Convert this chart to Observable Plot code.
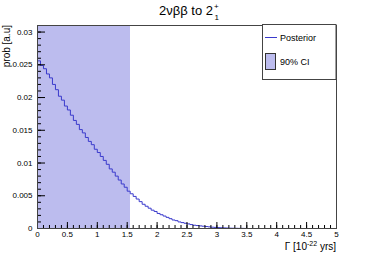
<!DOCTYPE html>
<html>
<head>
<meta charset="utf-8">
<script src="https://cdn.jsdelivr.net/npm/d3@7"></script>
<script src="https://cdn.jsdelivr.net/npm/@observablehq/plot@0.6"></script>
<style>
  html, body { margin: 0; padding: 0; background: #fff; }
  #chart { width: 374px; height: 254px; }
</style>
</head>
<body>
<div id="chart"></div>
<script>
// Posterior histogram: bin start (x, 1e-22 yrs) and probability
const binStart = [
  0.00, 0.05, 0.10, 0.15, 0.20, 0.25, 0.30, 0.35, 0.40, 0.45,
  0.50, 0.55, 0.60, 0.65, 0.70, 0.75, 0.80, 0.85, 0.90, 0.95,
  1.00, 1.05, 1.10, 1.15, 1.20, 1.25, 1.30, 1.35, 1.40, 1.45,
  1.50, 1.55, 1.60, 1.65, 1.70, 1.75, 1.80, 1.85, 1.90, 1.95,
  2.00, 2.05, 2.10, 2.15, 2.20, 2.25, 2.30, 2.35, 2.40, 2.45,
  2.50, 2.55, 2.60, 2.65, 2.70, 2.75, 2.80, 2.85, 2.90, 2.95,
  3.00, 3.05, 3.10, 3.15, 3.20, 3.25, 3.30, 3.35, 3.40, 3.45, 3.50
];
const prob = [
  0.0256, 0.0249, 0.0244, 0.0236, 0.0230, 0.0220, 0.0212, 0.0202, 0.0196, 0.0187,
  0.0181, 0.0173, 0.0165, 0.0159, 0.0151, 0.0146, 0.0139, 0.0133, 0.0128, 0.0121,
  0.0116, 0.0110, 0.0104, 0.0098, 0.0091, 0.0086, 0.0080, 0.0074, 0.0068, 0.0063,
  0.0057, 0.0053, 0.0049, 0.0045, 0.0041, 0.0037, 0.0034, 0.0031, 0.0028, 0.0026,
  0.0023, 0.0021, 0.0019, 0.0017, 0.0015, 0.0013, 0.0012, 0.0010, 0.0009, 0.0008,
  0.0007, 0.0006, 0.0005, 0.00045, 0.0004, 0.00035, 0.0003, 0.00025, 0.0002, 0.00017,
  0.00014, 0.00011, 0.00009, 0.00007, 0.00005, 0.00004, 0.00003, 0.00002, 0.00002, 0.00001, 0
];
// 90% credible interval
const ciLow = 0;
const ciHigh = 1.555;

// Axis ticks
const xMajorTicks = [0, 0.5, 1, 1.5, 2, 2.5, 3, 3.5, 4, 4.5, 5];
const xMinorTicks = d3.range(0, 51).map(i => i / 10);
const yMajorTicks = [0, 0.005, 0.01, 0.015, 0.02, 0.025, 0.03];
const yMinorTicks = d3.range(0, 31).map(i => i / 1000);
const yTickLabels = ["0", "0.005", "0.01", "0.015", "0.02", "0.025", "0.03"];
const xTickLabels = ["0", "0.5", "1", "1.5", "2", "2.5", "3", "3.5", "4", "4.5", "5"];

const posterior = binStart.map((x, i) => ({x, p: prob[i]}));
const ci = [{lo: ciLow, hi: ciHigh}];

const W = 374, H = 254;
const mL = 37, mR = 38, mT = 25, mB = 26;
const fw = W - mL - mR, fh = H - mT - mB;

const fillCI = "#bcbcee";
const lineCol = "#3a3acc";

const plot = Plot.plot({
  width: W, height: H,
  marginLeft: mL, marginRight: mR, marginTop: mT, marginBottom: mB,
  x: {domain: [0, 5]},
  y: {domain: [0, 0.031]},
  style: {fontFamily: "'Liberation Sans', Arial, sans-serif", fontSize: "8px", background: "white", color: "#000"},
  marks: [
    Plot.rect(ci, {x1: "lo", x2: "hi", fill: fillCI}),
    Plot.line(posterior, {x: "x", y: "p", curve: "step-after", stroke: lineCol, strokeWidth: 1}),
    Plot.tickX(xMinorTicks, {x: d => d, insetTop: fh - 3, stroke: "#000"}),
    Plot.tickX(xMajorTicks, {x: d => d, insetTop: fh - 6, stroke: "#000"}),
    Plot.tickY(yMinorTicks, {y: d => d, insetRight: fw - 4, stroke: "#000"}),
    Plot.tickY(yMajorTicks, {y: d => d, insetRight: fw - 8, stroke: "#000"}),
    Plot.axisX({ticks: xMajorTicks, tickSize: 0, tickPadding: 3, label: null,
      tickFormat: d => xTickLabels[xMajorTicks.indexOf(d)]}),
    Plot.axisY({ticks: yMajorTicks, tickSize: 0, tickPadding: 5, label: null,
      tickFormat: d => yTickLabels[yMajorTicks.indexOf(d)]}),
    Plot.frame({stroke: "#444"})
  ]
});

document.getElementById("chart").appendChild(plot);

const svg = d3.select(plot);
const font = "'Liberation Sans', Arial, sans-serif";

// Title
const title = svg.append("text")
  .attr("x", 186).attr("y", 15)
  .attr("text-anchor", "middle")
  .attr("font-family", font).attr("font-size", 13).attr("fill", "#000");
title.append("tspan").text("2νββ to 2");
const tEnd = 186 + title.node().getComputedTextLength() / 2;
svg.append("text").attr("x", tEnd + 1).attr("y", 9).attr("text-anchor", "start")
  .attr("font-family", font).attr("font-size", 8).text("+");
svg.append("text").attr("x", tEnd + 1.5).attr("y", 20).attr("text-anchor", "start")
  .attr("font-family", font).attr("font-size", 8).text("1");

// Y label
svg.append("text")
  .attr("transform", `translate(10, ${mT}) rotate(-90)`)
  .attr("text-anchor", "end")
  .attr("font-family", font).attr("font-size", 10).attr("fill", "#000")
  .text("prob [a.u]");

// X label
const xl = svg.append("text")
  .attr("x", W - mR).attr("y", 250)
  .attr("text-anchor", "end")
  .attr("font-family", font).attr("font-size", 10).attr("fill", "#000");
xl.append("tspan").text("Γ [10");
xl.append("tspan").attr("dy", -4).attr("font-size", 7).text("-22");
xl.append("tspan").attr("dy", 4).text(" yrs]");

// Legend
const lg = svg.append("g").attr("text-anchor", "start");
lg.append("rect").attr("x", 262.5).attr("y", 24.5).attr("width", 73.5).attr("height", 55)
  .attr("fill", "white").attr("stroke", "#444");
lg.append("line").attr("x1", 265).attr("x2", 277).attr("y1", 37.5).attr("y2", 37.5)
  .attr("stroke", lineCol).attr("stroke-width", 1);
lg.append("text").attr("x", 280).attr("y", 41).attr("text-anchor", "start")
  .attr("font-family", font).attr("font-size", 9).text("Posterior");
lg.append("rect").attr("x", 265.5).attr("y", 53.5).attr("width", 10).attr("height", 16)
  .attr("fill", fillCI).attr("stroke", "#333");
lg.append("text").attr("x", 280).attr("y", 65).attr("text-anchor", "start")
  .attr("font-family", font).attr("font-size", 9).text("90% CI");
</script>
</body>
</html>
